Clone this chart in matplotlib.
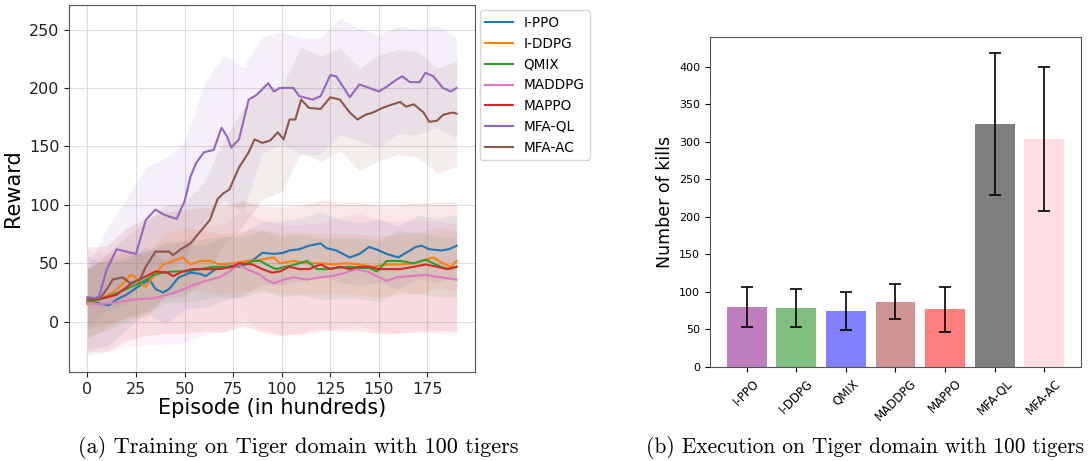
import numpy as np
import matplotlib
matplotlib.use("Agg")
import matplotlib.pyplot as plt

# ---- training curves (a): mean reward ----
ippo_x = [0, 5, 11, 15, 20, 27, 32, 35, 39, 42, 47, 53, 58, 61, 66, 75, 82, 87, 90, 96, 101, 104, 109, 114, 120, 123, 128, 135, 140, 145, 150, 154, 160, 164, 169, 172, 176, 182, 186, 190]
ippo_y = [16, 16, 14, 19, 23, 31, 36, 28, 25, 28, 38, 42, 41, 39, 45, 48, 49, 55, 59, 58, 59, 61, 62, 65, 67, 63, 61, 55, 58, 64, 61, 58, 55, 59, 64, 65, 62, 61, 62, 65]

iddpg_x = [0, 6, 13, 18, 22, 24, 27, 30, 34, 39, 44, 49, 53, 58, 63, 68, 75, 82, 89, 96, 99, 106, 113, 120, 126, 133, 140, 147, 154, 161, 168, 174, 178, 183, 187, 190]
iddpg_y = [15, 19, 25, 32, 40, 39, 33, 30, 39, 49, 52, 55, 49, 52, 52, 49, 50, 52, 53, 55, 50, 52, 50, 50, 49, 50, 49, 47, 49, 49, 50, 53, 55, 50, 47, 52]

qmix_x = [0, 6, 13, 20, 27, 34, 39, 44, 51, 58, 65, 72, 78, 85, 89, 92, 97, 102, 107, 113, 118, 123, 128, 135, 140, 145, 149, 154, 161, 168, 174, 182, 186, 190]
qmix_y = [17, 19, 23, 28, 33, 40, 42, 43, 43, 45, 47, 47, 47, 52, 52, 49, 45, 47, 49, 52, 45, 45, 46, 47, 46, 46, 43, 52, 52, 50, 53, 47, 45, 47]

maddpg_x = [0, 6, 13, 23, 34, 41, 47, 54, 61, 68, 75, 78, 82, 89, 92, 96, 101, 106, 113, 120, 126, 133, 138, 144, 149, 154, 159, 166, 174, 182, 186, 190]
maddpg_y = [16, 15, 16, 19, 20, 23, 26, 31, 35, 38, 45, 49, 45, 40, 36, 33, 36, 38, 36, 38, 39, 42, 45, 43, 39, 35, 38, 39, 40, 38, 37, 36]

mappo_x = [0, 8, 15, 22, 29, 35, 41, 44, 49, 54, 61, 68, 75, 78, 85, 90, 95, 99, 104, 109, 114, 120, 125, 130, 135, 140, 145, 150, 156, 161, 168, 174, 180, 185, 190]
mappo_y = [19, 20, 23, 32, 38, 43, 42, 39, 43, 45, 45, 45, 47, 50, 49, 45, 42, 43, 47, 45, 45, 49, 45, 47, 45, 47, 47, 45, 45, 45, 47, 49, 47, 45, 47]

mfaql_x = [0, 4, 6, 10, 15, 20, 25, 30, 35, 39, 42, 46, 48, 50, 53, 56, 60, 65, 69, 72, 74, 78, 83, 87, 93, 96, 99, 106, 109, 116, 120, 125, 128, 132, 135, 140, 145, 150, 154, 159, 162, 166, 171, 174, 178, 183, 187, 190]
mfaql_y = [21, 20, 22, 45, 62, 60, 58, 87, 96, 92, 90, 88, 96, 103, 124, 136, 145, 147, 166, 158, 149, 156, 190, 194, 204, 197, 200, 200, 193, 190, 193, 211, 210, 200, 192, 203, 200, 197, 201, 207, 210, 205, 205, 213, 210, 200, 197, 200]

mfaac_x = [0, 6, 10, 13, 18, 22, 27, 30, 35, 40, 42, 44, 48, 53, 58, 63, 67, 70, 73, 78, 83, 86, 90, 94, 98, 101, 104, 107, 110, 114, 120, 125, 130, 135, 139, 143, 147, 152, 157, 161, 164, 168, 173, 176, 180, 183, 188, 190]
mfaac_y = [19, 19, 28, 36, 38, 33, 36, 47, 60, 60, 60, 57, 62, 67, 77, 87, 105, 110, 113, 132, 145, 156, 153, 155, 162, 156, 173, 173, 190, 183, 182, 192, 190, 179, 173, 177, 179, 183, 186, 188, 184, 186, 179, 171, 172, 177, 179, 178]

# ---- band half widths (every 10 episodes) ----
band_x = [0, 10, 20, 30, 40, 50, 60, 70, 80, 90, 100, 110, 120, 130, 140, 150, 160, 170, 180, 190]
ippo_sd = [40, 35, 30, 28, 27, 27, 27, 27, 27, 27, 27, 27, 27, 27, 27, 27, 27, 27, 27, 27]
iddpg_sd = [30, 30, 28, 27, 26, 26, 26, 26, 26, 26, 26, 26, 26, 26, 26, 26, 26, 26, 26, 26]
qmix_sd = [30, 30, 28, 27, 26, 26, 26, 26, 26, 26, 26, 26, 26, 26, 26, 26, 26, 26, 26, 26]
maddpg_sd = [45, 42, 40, 40, 42, 44, 46, 46, 46, 47, 47, 47, 47, 48, 48, 48, 48, 48, 48, 48]
mappo_sd = [45, 45, 48, 50, 52, 53, 53, 54, 54, 54, 55, 55, 55, 55, 55, 55, 55, 55, 55, 55]
mfaql_sd = [25, 35, 45, 45, 48, 50, 58, 62, 62, 50, 48, 50, 50, 50, 48, 48, 46, 45, 44, 43]
mfaac_sd = [25, 30, 35, 38, 40, 40, 42, 45, 50, 48, 45, 45, 45, 44, 44, 45, 45, 45, 45, 45]

labels = ["I-PPO", "I-DDPG", "QMIX", "MADDPG", "MAPPO", "MFA-QL", "MFA-AC"]
line_colors = ["tab:blue", "tab:orange", "tab:green", "tab:pink", "tab:red", "tab:purple", "tab:brown"]

# ---- execution (b): number of kills ----
kills = [80, 79, 75, 87, 77, 324, 304]
kills_err = [27, 25.5, 25.5, 23.5, 30, 94.5, 96]
bar_colors = ["purple", "green", "blue", "brown", "red", "black", "pink"]

fig = plt.figure(figsize=(10.92, 4.61), dpi=100)
ax1 = fig.add_axes([0.0632, 0.1931, 0.3718, 0.7961])
ax2 = fig.add_axes([0.6502, 0.2039, 0.3397, 0.7158])

series = [
    (ippo_x, ippo_y, ippo_sd),
    (iddpg_x, iddpg_y, iddpg_sd),
    (qmix_x, qmix_y, qmix_sd),
    (maddpg_x, maddpg_y, maddpg_sd),
    (mappo_x, mappo_y, mappo_sd),
    (mfaql_x, mfaql_y, mfaql_sd),
    (mfaac_x, mfaac_y, mfaac_sd),
]

# bands: mean at band points taken from the same readings
for (xs, ys, sd), c in zip(series, line_colors):
    mid = np.array([ys[int(np.argmin(np.abs(np.array(xs) - b)))] for b in band_x])
    sd = np.array(sd)
    ax1.fill_between(band_x, mid - sd, mid + sd, color=c, alpha=0.1, lw=0)

for (xs, ys, sd), c, lab in zip(series, line_colors, labels):
    ax1.plot(xs, ys, color=c, lw=1.5, label=lab)

ax1.set_xlim(-9.5, 199.5)
ax1.set_ylim(-43, 271)
ax1.set_xticks(np.arange(0, 176, 25))
ax1.set_yticks(np.arange(0, 251, 50))
ax1.grid(True, color="#dddddd", lw=0.8)
ax1.set_axisbelow(True)
ax1.tick_params(labelsize=11.5, colors="#222222")
ax1.set_xlabel("Episode (in hundreds)", fontsize=15, labelpad=1)
ax1.set_ylabel("Reward", fontsize=15)
for s in ax1.spines.values():
    s.set_color("#555555")
ax1.legend(loc="upper left", bbox_to_anchor=(1.012, 0.985), fontsize=9.8,
           borderaxespad=0.0, handlelength=2.0)

xpos = np.arange(len(labels))
ax2.bar(xpos, kills, yerr=kills_err, color=bar_colors, alpha=0.5, width=0.8,
        capsize=4, error_kw=dict(lw=1.2, capthick=1.2))
ax2.set_xticks(xpos)
ax2.set_xticklabels(labels, rotation=45, fontsize=8.5)
ax2.tick_params(axis="y", labelsize=8)
ax2.set_ylabel("Number of kills", fontsize=12.5)
for s in ax2.spines.values():
    s.set_color("#555555")

fig.text(0.273, 0.030, "(a) Training on Tiger domain with 100 tigers",
         ha="center", va="center", fontsize=16, family="cmr10")
fig.text(0.7925, 0.030, "(b) Execution on Tiger domain with 100 tigers",
         ha="center", va="center", fontsize=15.4, family="cmr10")

fig.savefig("out.png", dpi=100)
